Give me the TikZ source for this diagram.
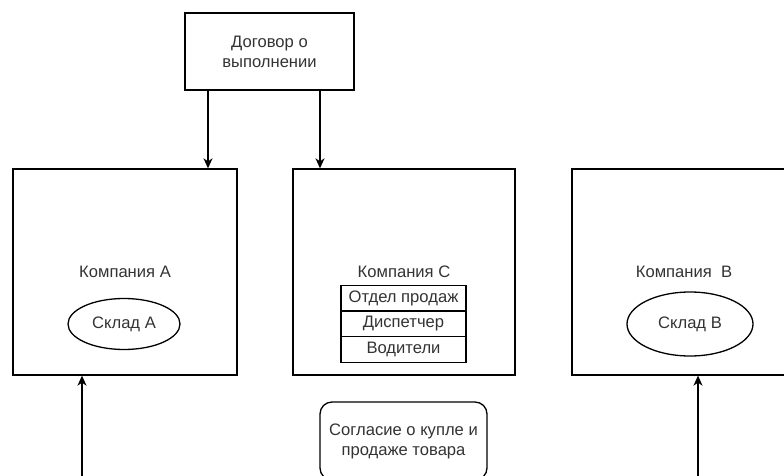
\documentclass[tikz,border=0pt]{standalone}
\usepackage{fontspec}
\setmainfont{Liberation Sans}
\usetikzlibrary{positioning,shapes.geometric,arrows.meta}
\tikzset{
  every node/.style={font=\fontsize{16.6}{20}\selectfont,text=black!80},
  compbox/.style={draw=black,rectangle,minimum width=224pt,minimum height=206pt,inner sep=0pt},
  sklad/.style={draw=black,ellipse,inner sep=0pt},
  rowbox/.style={draw=black,rectangle,minimum width=125pt,minimum height=25.7pt,inner sep=0pt,outer sep=0pt},
  conn/.style={-{Stealth[length=10pt,width=9pt,inset=3pt]}}
}
\begin{document}
\begin{tikzpicture}[x=1pt,y=-1pt,line width=1.3pt]
        \clip (0,0) rectangle (784,476);
        \useasboundingbox (0,0) rectangle (784,476);

        \node[draw=black,minimum width=169pt,minimum height=77pt,align=center,inner sep=0pt] (dog) at (269.5,51.5) {Договор о\\выполнении};

        \node[compbox] (compA) at (125,272) {Компания А};
        \node[compbox,minimum width=222pt] (compC) at (404,272) {Компания С};
        \node[compbox] (compB) at (684,272) {Компания\ \ В};

        \node[sklad,minimum width=112pt,minimum height=51pt] (skladA) at (124,324) {Склад А};
        \node[sklad,minimum width=126pt,minimum height=64pt] (skladB) at (690,324) {Склад В};

        \node[rowbox] (sales) at (403.5,298) {Отдел продаж};
        \node[rowbox,below=0pt of sales] (disp) {Диспетчер};
        \node[rowbox,below=0pt of disp] (drivers) {Водители};

        \node[draw=black,rounded corners=12pt,minimum width=167pt,minimum height=78pt,align=center,inner sep=0pt] (deal) at (403.5,441) {Согласие о купле и\\продаже товара};

        \coordinate (inA) at (82,490);
        \coordinate (inB) at (698,490);

        \draw[conn] (dog.south -| 208,0) -- (compA.north -| 208,0);
        \draw[conn] (dog.south -| 320,0) -- (compC.north -| 320,0);
        \draw[conn] (inA) -- (inA |- compA.south);
        \draw[conn] (inB) -- (inB |- compB.south);
\end{tikzpicture}
\end{document}
